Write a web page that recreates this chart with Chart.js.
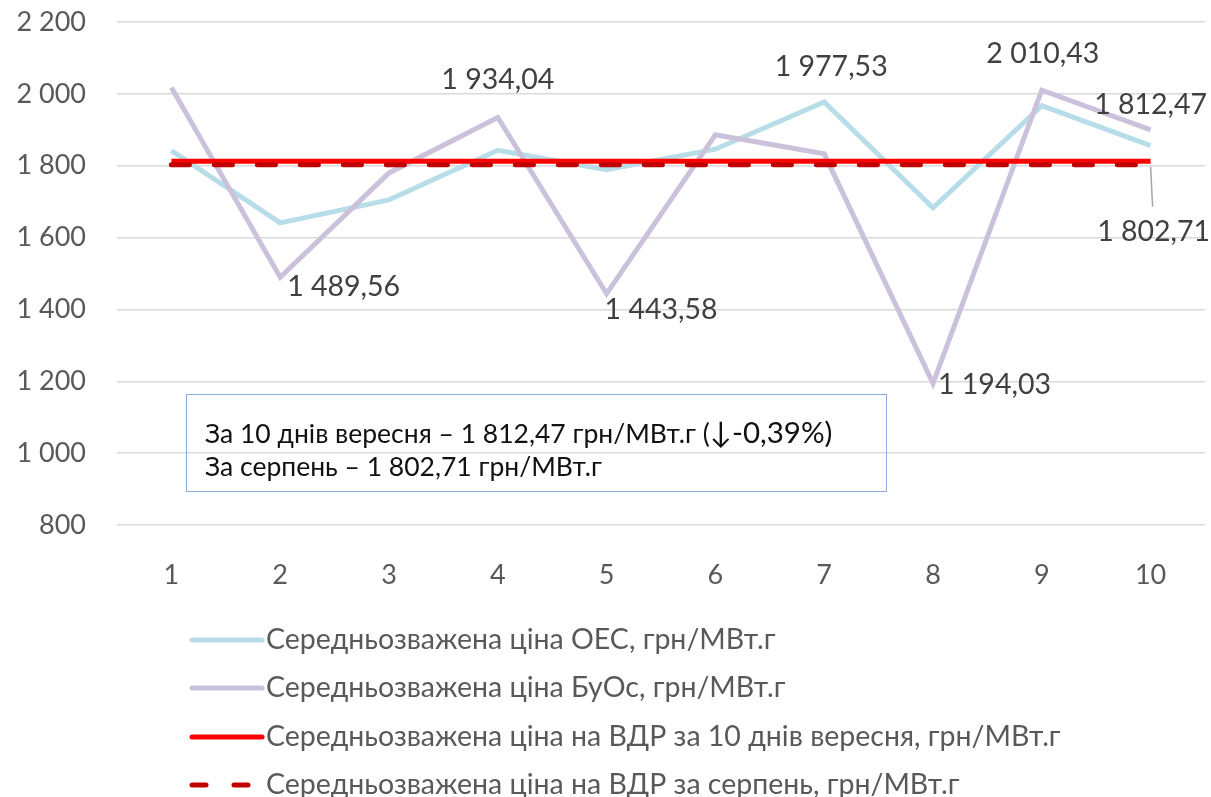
<!DOCTYPE html>
<html><head><meta charset="utf-8">
<script src="https://cdn.jsdelivr.net/npm/chart.js@4.4.1/dist/chart.umd.min.js"></script>
<style>
html,body{margin:0;padding:0;background:#fff;}
#wrap{position:relative;width:1211px;height:797px;}
canvas{display:block}
#note{position:absolute;left:186px;top:394px;width:701px;height:98px;border:1px solid #8FAADC;box-sizing:border-box;font-family:Lato,"Noto Sans",sans-serif;color:#111;font-size:26.5px;line-height:1;}
#note div{position:absolute;left:18px;white-space:nowrap;}
#l1{top:22px}#l2{top:58px}
#l1 span{font-size:29.5px}
</style></head><body>
<div id="wrap"><canvas id="c" width="1211" height="797"></canvas>
<div id="note"><div id="l1">За 10 днів вересня – 1 812,47 грн/МВт.г (<span>↓-0,39%)</span></div><div id="l2">За серпень – 1 802,71 грн/МВт.г</div></div></div>
<script>
const days = ['1','2','3','4','5','6','7','8','9','10'];
const oes = [1842, 1641, 1705, 1843, 1789, 1846, 1977.53, 1683, 1967, 1856];
const buos = [2018, 1489.56, 1780, 1934.04, 1443.58, 1886, 1833, 1194.03, 2010.43, 1900];
const vdrSep = [1812.47, 1812.47, 1812.47, 1812.47, 1812.47, 1812.47, 1812.47, 1812.47, 1812.47, 1812.47];
const vdrAug = [1802.71, 1802.71, 1802.71, 1802.71, 1802.71, 1802.71, 1802.71, 1802.71, 1802.71, 1802.71];
const seriesNames = [
  'Середньозважена ціна ОЕС, грн/МВт.г',
  'Середньозважена ціна БуОс, грн/МВт.г',
  'Середньозважена ціна на ВДР за 10 днів вересня, грн/МВт.г',
  'Середньозважена ціна на ВДР за серпень, грн/МВт.г'
];
const yMin = 800, yMax = 2200, yStep = 200;

// which points carry a value label (dataset index, point index) and how it sits
const pointLabels = [
  {ds:1, i:1, align:'left', dx:7, dy:10},
  {ds:1, i:3, align:'center', dx:0, dy:-38},
  {ds:1, i:4, align:'left', dx:-2, dy:16},
  {ds:0, i:6, align:'center', dx:7, dy:-35},
  {ds:1, i:7, align:'left', dx:5, dy:1},
  {ds:1, i:8, align:'center', dx:1, dy:-36},
  {ds:2, i:9, align:'center', dx:0, dy:-56},
  {ds:3, i:9, align:'center', dx:3, dy:67, leader:true}
];

function fmt(v, dec){
  const s = Number(v).toFixed(dec);
  const parts = s.split('.');
  const intp = parts[0].replace(/\B(?=(\d{3})+(?!\d))/g, ' ');
  return parts.length > 1 ? intp + ',' + parts[1] : intp;
}
const FONT = 'Lato, "Noto Sans", sans-serif';

const labelPlugin = {
  id:'pointLabels',
  afterDatasetsDraw(chart){
    const ctx = chart.ctx;
    ctx.save();
    ctx.font = '28.5px ' + FONT;
    ctx.fillStyle = '#404040';
    ctx.textBaseline = 'middle';
    pointLabels.forEach(p => {
      const el = chart.getDatasetMeta(p.ds).data[p.i];
      const v = chart.data.datasets[p.ds].data[p.i];
      const x = el.x + p.dx, y = el.y + p.dy;
      if (p.leader){
        ctx.strokeStyle = '#A6A6A6'; ctx.lineWidth = 1.5;
        ctx.beginPath(); ctx.moveTo(el.x, el.y + 2); ctx.lineTo(el.x + 2, y - 25); ctx.stroke();
      }
      ctx.textAlign = p.align;
      ctx.fillText(fmt(v, 2), x, y);
    });
    ctx.restore();
  }
};

const legendPlugin = {
  id:'leftLegend',
  afterDraw(chart){
    const ctx = chart.ctx;
    ctx.save();
    ctx.font = '28.5px ' + FONT;
    ctx.fillStyle = '#595959';
    ctx.textBaseline = 'middle';
    ctx.textAlign = 'left';
    const rows = [640, 688, 737, 785];
    chart.data.datasets.forEach((d, k) => {
      const y = rows[k];
      ctx.strokeStyle = d.borderColor;
      ctx.lineWidth = d.borderWidth;
      ctx.lineCap = 'round';
      ctx.setLineDash(d.borderDash ? [14, 28] : []);
      ctx.beginPath(); ctx.moveTo(192, y); ctx.lineTo(262, y); ctx.stroke();
      ctx.setLineDash([]);
      ctx.fillText(d.label, 266, y);
    });
    ctx.restore();
  }
};

new Chart(document.getElementById('c'), {
  type:'line',
  data:{
    labels: days,
    datasets:[
      {label:seriesNames[0], data:oes, borderColor:'#B7DEE8', borderWidth:5, pointRadius:0, order:4, tension:0},
      {label:seriesNames[1], data:buos, borderColor:'#CCC1DA', borderWidth:5, pointRadius:0, order:3, tension:0},
      {label:seriesNames[2], data:vdrSep, borderColor:'#FF0000', borderWidth:5, pointRadius:0, order:2},
      {label:seriesNames[3], data:vdrAug, borderColor:'#C00000', borderWidth:5, borderDash:[18,25], borderCapStyle:'round', pointRadius:0, order:1}
    ]
  },
  options:{
    responsive:false, animation:false, devicePixelRatio:1,
    layout:{padding:{top:22, right:6, left:0, bottom:0}},
    plugins:{legend:{display:false}, tooltip:{enabled:false}},
    scales:{
      x:{offset:true, grid:{display:false}, border:{display:false},
         ticks:{font:{family:FONT, size:27}, color:'#595959', padding:26},
         afterFit(s){ s.height = 272; }},
      y:{min:yMin, max:yMax,
         ticks:{stepSize:yStep, callback:v => fmt(v,0), font:{family:FONT, size:27}, color:'#595959', padding:31},
         grid:{color:'#D9D9D9', lineWidth:1.5, drawTicks:false}, border:{display:false},
         afterFit(s){ s.width = 117; s.paddingTop = 0; s.paddingBottom = 0; }}
    }
  },
  plugins:[labelPlugin, legendPlugin]
});
</script>
</body></html>
